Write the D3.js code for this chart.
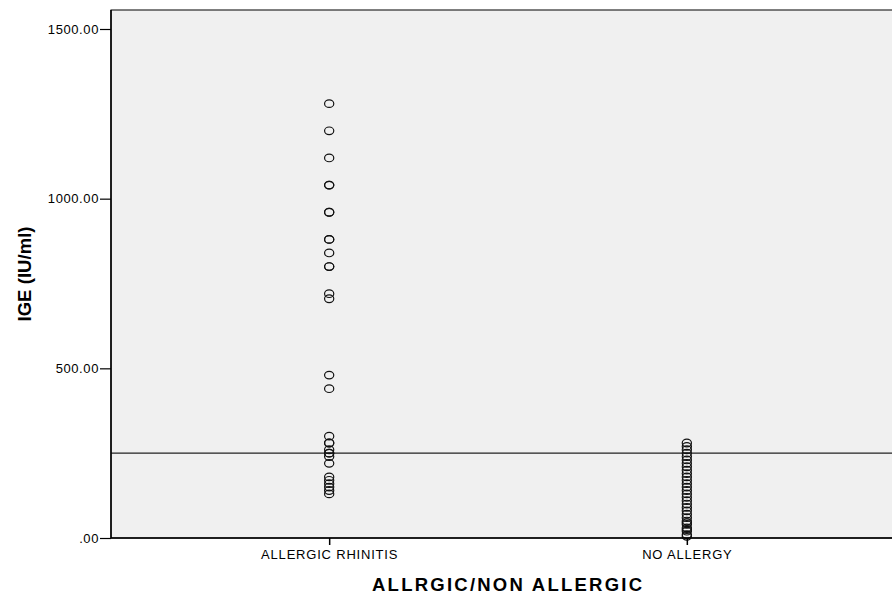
<!DOCTYPE html>
<html>
<head>
<meta charset="utf-8">
<script src="https://cdn.jsdelivr.net/npm/d3@7"></script>
<style>
  html, body { margin: 0; padding: 0; background: #fff; }
  svg { display: block; }
</style>
</head>
<body>
<svg id="chart" width="892" height="594"></svg>
<script>
const categories = ["ALLERGIC RHINITIS", "NO ALLERGY"];
const allergicValues = [1280, 1200, 1120, 1040, 1040, 960, 960, 880, 880, 840, 800, 800, 720, 705,
  480, 440, 300, 280, 280, 260, 250, 250, 240, 220, 180, 170, 160, 150, 140, 130];
const noAllergyValues = [280, 270, 260, 250, 240, 230, 220, 210, 200, 190, 180, 170, 160, 150, 140,
  130, 120, 110, 100, 90, 80, 70, 60, 50, 45, 40, 30, 25, 20, 10, 5];
const yTicks = [0, 500, 1000, 1500];
const refLine = 250;
const yLabel = "IGE (IU/ml)";
const xLabel = "ALLRGIC/NON ALLERGIC";

(function () {
const svg = d3.select("#chart");
const pLeft = 111, pRight = 905, pTop = 10, pBottom = 538;
const font = "Liberation Sans, Arial, sans-serif";

const x = d3.scalePoint().domain(categories).range([pLeft, pRight]).padding(0.61);
const y = d3.scaleLinear().domain([0, 1500]).range([pBottom, 29]);

// plot background
svg.append("rect")
  .attr("x", pLeft).attr("y", pTop)
  .attr("width", pRight - pLeft).attr("height", pBottom - pTop)
  .attr("fill", "#f0f0f0")
  .attr("stroke", "#000").attr("stroke-width", 1);

// reference line
svg.append("line")
  .attr("x1", pLeft).attr("x2", pRight)
  .attr("y1", y(refLine)).attr("y2", y(refLine))
  .attr("stroke", "#222").attr("stroke-width", 1.4);

// points
const series = [
  { cat: categories[0], vals: allergicValues },
  { cat: categories[1], vals: noAllergyValues }
];
series.forEach(s => {
  svg.append("g").selectAll("ellipse").data(s.vals).join("ellipse")
    .attr("cx", x(s.cat))
    .attr("cy", d => y(d))
    .attr("rx", 4.6).attr("ry", 3.8)
    .attr("fill", "none")
    .attr("stroke", "#111")
    .attr("stroke-width", 1.2);
});

// y axis
const yAxis = d3.axisLeft(y).tickValues(yTicks)
  .tickFormat(d => d === 0 ? ".00" : d3.format(".2f")(d))
  .tickSize(11).tickPadding(1);
const gy = svg.append("g").attr("transform", `translate(${pLeft},0)`).call(yAxis);
gy.select(".domain").remove();
gy.selectAll("line").attr("stroke", "#000").attr("stroke-width", 1.2);
gy.selectAll("text").attr("font-family", font)
  .attr("font-size", 13).attr("letter-spacing", 0.6).attr("fill", "#000");

svg.append("line").attr("x1", pLeft).attr("x2", pLeft).attr("y1", pTop).attr("y2", pBottom)
  .attr("stroke", "#000").attr("stroke-width", 1.5);

// x axis
const xAxis = d3.axisBottom(x).tickSize(7).tickPadding(5);
const gx = svg.append("g").attr("transform", `translate(0,${pBottom})`).call(xAxis);
gx.select(".domain").remove();
gx.selectAll("line").attr("stroke", "#000").attr("stroke-width", 1.5);
gx.selectAll("text").attr("font-family", font)
  .attr("font-size", 13).attr("letter-spacing", 0.8).attr("fill", "#000");

svg.append("line").attr("x1", pLeft).attr("x2", pRight).attr("y1", pBottom).attr("y2", pBottom)
  .attr("stroke", "#000").attr("stroke-width", 1.5);

// axis titles
svg.append("text")
  .attr("x", 507).attr("y", 591)
  .attr("text-anchor", "middle")
  .attr("font-family", font)
  .attr("font-weight", "bold").attr("font-size", 18.5)
  .attr("textLength", 270).attr("lengthAdjust", "spacing")
  .text(xLabel);

svg.append("text")
  .attr("transform", `translate(31,${(pTop + pBottom) / 2}) rotate(-90)`)
  .attr("text-anchor", "middle")
  .attr("font-family", font)
  .attr("font-weight", "bold").attr("font-size", 18.5)
  .attr("textLength", 95).attr("lengthAdjust", "spacing")
  .text(yLabel);
})();
</script>
</body>
</html>
